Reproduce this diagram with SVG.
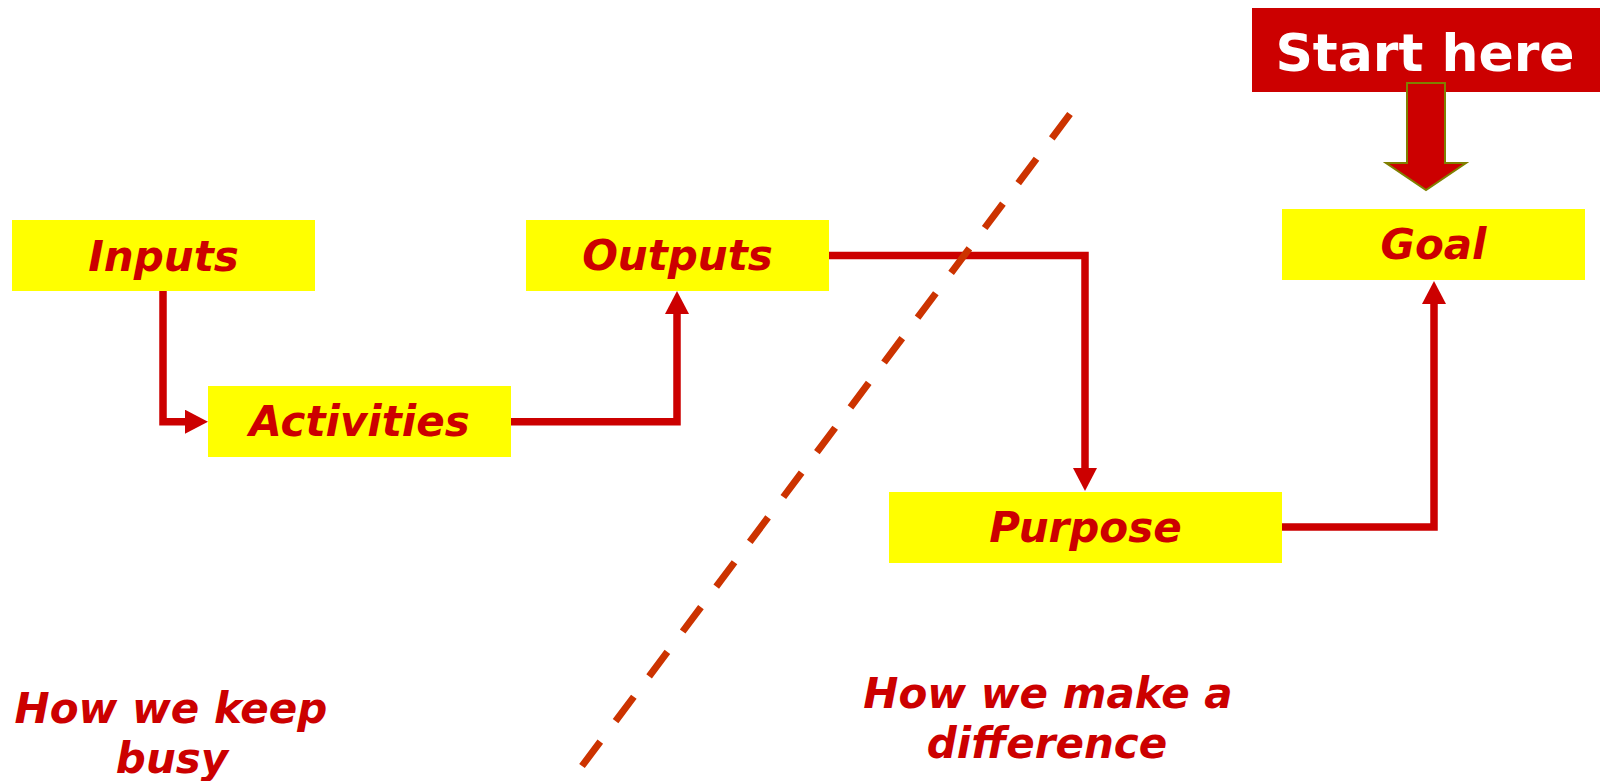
<svg xmlns="http://www.w3.org/2000/svg" width="1602" height="781" viewBox="0 0 1602 781">
<style>
.box{fill:#ffff00}
.lbl{font-family:"DejaVu Sans","Liberation Sans",sans-serif;font-weight:bold;font-style:italic;font-size:42px;fill:#cc0000;text-anchor:middle}
.conn{fill:none;stroke:#cc0000;stroke-width:7.5;stroke-linejoin:miter;stroke-linecap:butt}
.start{font-family:"DejaVu Sans","Liberation Sans",sans-serif;font-weight:bold;font-size:52px;fill:#ffffff;text-anchor:middle}
</style>
<defs>
<marker id="ah" viewBox="0 0 23 24" refX="0" refY="12" markerWidth="23" markerHeight="24" markerUnits="userSpaceOnUse" orient="auto">
<path d="M0,0 L23,12 L0,24 Z" fill="#cc0000"/>
</marker>
</defs>
<rect width="1602" height="781" fill="#ffffff"/>
<g id="start-here">
<rect x="1252" y="8" width="348" height="84" fill="#cc0000"/>
<text class="start" x="1425" y="71">Start here</text>
<path d="M1407,83 H1445 V163 H1466 L1426,190 L1386,163 H1407 Z" fill="#cc0000" stroke="#808000" stroke-width="2"/>
</g>
<g id="inputs">
<rect class="box" x="12" y="220" width="303" height="71"/>
<text class="lbl" x="163.5" y="271">Inputs</text>
</g>
<g id="activities">
<rect class="box" x="208" y="386" width="303" height="71"/>
<text class="lbl" x="359.5" y="436">Activities</text>
</g>
<g id="outputs">
<rect class="box" x="526" y="220" width="303" height="71"/>
<text class="lbl" x="677.5" y="270">Outputs</text>
</g>
<g id="purpose">
<rect class="box" x="889" y="492" width="393" height="71"/>
<text class="lbl" x="1085.5" y="542">Purpose</text>
</g>
<g id="goal">
<rect class="box" x="1282" y="209" width="303" height="71"/>
<text class="lbl" x="1433.5" y="259">Goal</text>
</g>
<g id="connectors">
<path class="conn" d="M163,291 V421.7 H185" marker-end="url(#ah)"/>
<path class="conn" d="M511,421.7 H677 V314" marker-end="url(#ah)"/>
<path class="conn" d="M829,255.5 H1085 V468" marker-end="url(#ah)"/>
<path class="conn" d="M1282,527 H1434 V304" marker-end="url(#ah)"/>
</g>
<g id="divider">
<line x1="582" y1="766" x2="1070" y2="114" stroke="#cc3300" stroke-width="7" stroke-dasharray="30.5 25.5"/>
</g>
<g id="notes">
<text class="lbl" x="171" y="723">How we keep</text>
<text class="lbl" x="172" y="773">busy</text>
<text class="lbl" x="1048" y="708">How we make a</text>
<text class="lbl" x="1047" y="758">difference</text>
</g>
</svg>
